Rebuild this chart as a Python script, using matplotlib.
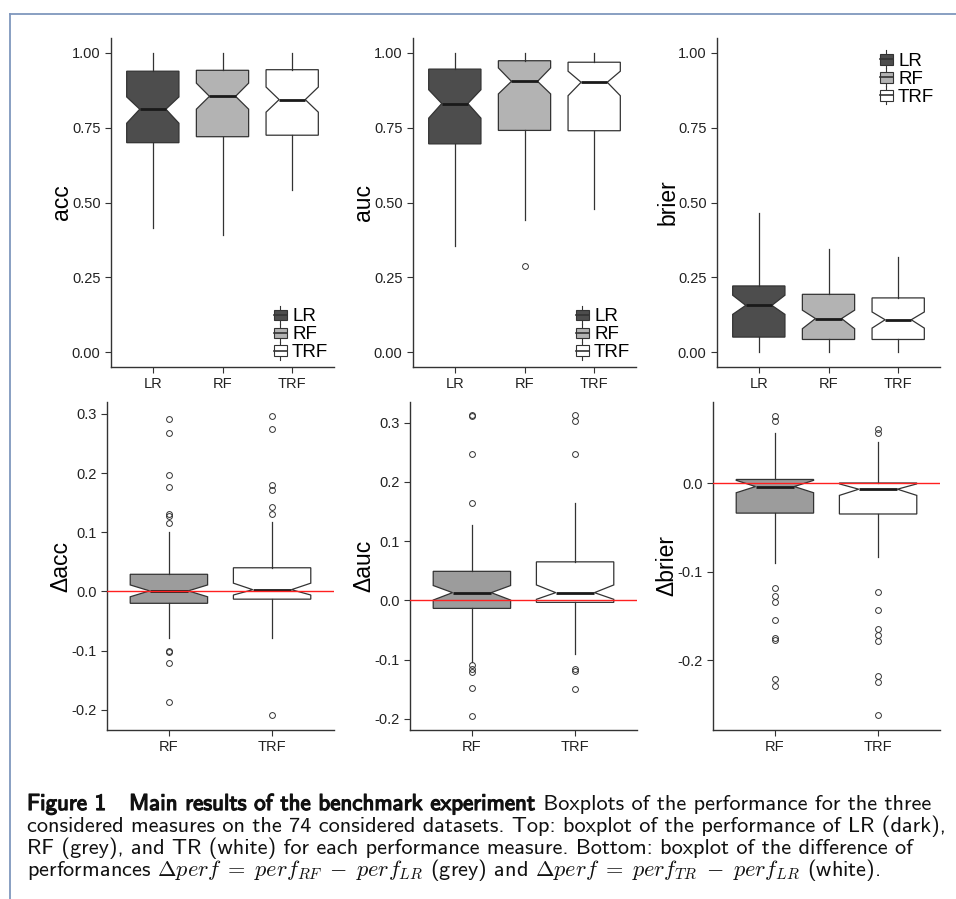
import matplotlib
matplotlib.use("Agg")
import matplotlib.pyplot as plt
import matplotlib.patheffects as pe
from matplotlib.lines import Line2D
from matplotlib.patches import Patch, Rectangle
from matplotlib.legend_handler import HandlerBase

plt.rcParams["font.family"] = "Liberation Sans"
plt.rcParams["axes.unicode_minus"] = False
plt.rcParams["mathtext.fontset"] = "cm"

# ---- dados ----
modelos = ["LR", "RF", "TRF"]
cores_topo = ["#4d4d4d", "#b3b3b3", "#ffffff"]
cores_base = ["#9c9c9c", "#ffffff"]

# topo: (q1, mediana, q3, bigode inf, bigode sup, ci inf, ci sup)
acc = [(0.700, 0.812, 0.939, 0.416, 1.0, 0.765, 0.853),
       (0.720, 0.855, 0.942, 0.391, 1.0, 0.812, 0.899),
       (0.725, 0.844, 0.944, 0.541, 1.0, 0.802, 0.886)]
auc = [(0.696, 0.831, 0.946, 0.355, 1.0, 0.782, 0.877),
       (0.741, 0.905, 0.974, 0.441, 1.0, 0.863, 0.950),
       (0.740, 0.902, 0.969, 0.477, 1.0, 0.857, 0.939)]
brier = [(0.050, 0.156, 0.221, 0.0, 0.466, 0.126, 0.190),
         (0.042, 0.112, 0.193, 0.0, 0.346, 0.078, 0.140),
         (0.042, 0.108, 0.181, 0.0, 0.318, 0.080, 0.134)]
out_auc = [[], [0.287], []]

# base: diferenças RF-LR, TRF-LR
dacc = [(-0.020, 0.001, 0.029, -0.078, 0.100, -0.009, 0.011),
        (-0.013, 0.003, 0.040, -0.079, 0.117, -0.006, 0.014)]
out_dacc = [[0.291, 0.267, 0.196, 0.177, 0.130, 0.128, 0.116,
             -0.100, -0.102, -0.120, -0.187],
            [0.297, 0.275, 0.180, 0.171, 0.143, 0.131, -0.209]]
dauc = [(-0.0136, 0.013, 0.049, -0.104, 0.127, 0.0005, 0.025),
        (-0.0034, 0.013, 0.065, -0.090, 0.164, 0.0017, 0.026)]
out_dauc = [[0.313, 0.311, 0.248, 0.165, -0.109, -0.116, -0.121,
             -0.148, -0.195],
            [0.313, 0.303, 0.248, -0.116, -0.119, -0.149]]
dbrier = [(-0.034, -0.004, 0.004, -0.090, 0.057, -0.011, 0.003),
          (-0.035, -0.007, 0.000, -0.084, 0.046, -0.014, -0.001)]
out_dbrier = [[0.076, 0.070, -0.119, -0.128, -0.134, -0.155, -0.175,
               -0.177, -0.221, -0.229],
              [0.061, 0.056, -0.123, -0.143, -0.165, -0.172, -0.178,
               -0.218, -0.225, -0.262]]

ESCURO = "#333333"


class ChaveBox(HandlerBase):
    # chave de legenda no estilo ggplot: caixinha com bigode e mediana
    def create_artists(self, legend, orig, xd, yd, w, h, fs, trans):
        cx = w / 2 - xd
        bw, bh = w * 0.95, h * 0.72
        y0 = -yd + (h - bh) / 2
        bigode = Line2D([cx, cx], [-yd - 1, -yd + h + 1], color=ESCURO,
                        lw=0.8, transform=trans)
        caixa = Rectangle((cx - bw / 2, y0), bw, bh, facecolor=orig.get_facecolor(),
                          edgecolor=ESCURO, lw=0.8, transform=trans)
        med = Line2D([cx - bw / 2, cx + bw / 2], [y0 + bh / 2] * 2, color=ESCURO,
                     lw=1.2, transform=trans)
        return [bigode, caixa, med]


def estatisticas(linhas, outliers=None):
    st = []
    for i, (q1, med, q3, lo, hi, cil, cih) in enumerate(linhas):
        st.append(dict(q1=q1, med=med, q3=q3, whislo=lo, whishi=hi,
                       cilo=cil, cihi=cih,
                       fliers=outliers[i] if outliers else []))
    return st


def painel(ax, linhas, cores, outliers=None):
    bp = ax.bxp(estatisticas(linhas, outliers), positions=range(1, len(linhas) + 1),
                widths=0.75, patch_artist=True, shownotches=True, showcaps=False,
                boxprops=dict(edgecolor=ESCURO, linewidth=0.9),
                whiskerprops=dict(color=ESCURO, linewidth=0.9),
                medianprops=dict(color="#1a1a1a", linewidth=2.0),
                flierprops=dict(marker="o", markersize=4.2, markerfacecolor="none",
                                markeredgecolor=ESCURO, markeredgewidth=0.7))
    for caixa, cor in zip(bp["boxes"], cores):
        caixa.set_facecolor(cor)
    for lado in ("top", "right"):
        ax.spines[lado].set_visible(False)
    for lado in ("left", "bottom"):
        ax.spines[lado].set_color(ESCURO)
        ax.spines[lado].set_linewidth(1.0)
    ax.tick_params(direction="out", length=4, width=0.8, color=ESCURO,
                   labelsize=10.5, labelcolor="#222222")


fig = plt.figure(figsize=(9.56, 8.99), dpi=100)

# --- linha de cima ---
topo = [(acc, None, "acc", "lower right", (1, 0)),
        (auc, out_auc, "auc", "lower right", (1, 0)),
        (brier, None, "brier", "upper right", (1, 0.975))]
esq_topo = [111, 413, 717]
for esq, (linhas, outs, nome, loc, ancora) in zip(esq_topo, topo):
    ax = fig.add_axes([esq / 956, 1 - 367 / 899, 223 / 956, 329 / 899])
    painel(ax, linhas, cores_topo, outs)
    ax.set_xlim(0.4, 3.6)
    ax.set_ylim(-0.05, 1.05)
    ax.set_yticks([0, 0.25, 0.5, 0.75, 1.0])
    ax.set_yticklabels(["0.00", "0.25", "0.50", "0.75", "1.00"])
    ax.set_xticks([1, 2, 3])
    ax.set_xticklabels(modelos)
    ax.set_ylabel(nome, fontsize=16.5, labelpad=-1)
    alcas = [Patch(facecolor=c) for c in cores_topo]
    ax.legend(alcas, modelos, loc=loc, bbox_to_anchor=ancora, frameon=False,
              fontsize=13.5, handler_map={Patch: ChaveBox()}, handlelength=0.75,
              handleheight=0.85, handletextpad=0.25, labelspacing=0.0,
              borderaxespad=0.2, borderpad=0.1)

# --- linha de baixo ---
base = [(dacc, out_dacc, "\u0394acc", (-0.234, 0.32), [-0.2, -0.1, 0.0, 0.1, 0.2, 0.3]),
        (dauc, out_dauc, "\u0394auc", (-0.219, 0.335), [-0.2, -0.1, 0.0, 0.1, 0.2, 0.3]),
        (dbrier, out_dbrier, "\u0394brier", (-0.279, 0.0915), [-0.2, -0.1, 0.0])]
esq_base = [107, 410, 713]
for esq, (linhas, outs, nome, lim, ticks) in zip(esq_base, base):
    ax = fig.add_axes([esq / 956, 1 - 730 / 899, 227 / 956, 328 / 899])
    painel(ax, linhas, cores_base, outs)
    ax.axhline(0, color="#ff2020", lw=1.0, zorder=5)
    ax.set_xlim(0.4, 2.6)
    ax.set_ylim(*lim)
    ax.set_yticks(ticks)
    ax.set_yticklabels([f"{t:.1f}" for t in ticks])
    ax.set_xticks([1, 2])
    ax.set_xticklabels(modelos[1:])
    ax.set_ylabel(nome, fontsize=16.5, labelpad=-1)

# moldura da página
azul = "#7f97bd"
fig.add_artist(Line2D([10 / 956, 1], [1 - 14 / 899] * 2, color=azul, lw=1.3,
                      transform=fig.transFigure))
fig.add_artist(Line2D([10 / 956] * 2, [0, 1 - 14 / 899], color=azul, lw=1.3,
                      transform=fig.transFigure))

# legenda da figura (texto corrido, Computer Modern Sans)
fonte_leg = "cmss10"
negrito = [pe.withStroke(linewidth=0.9, foreground="#111111")]
linhas_leg = [
    [("Figure 1   Main results of the benchmark experiment", True),
     (" Boxplots of the performance for the three", False)],
    [("considered measures on the 74 considered datasets. Top: boxplot of the performance of LR (dark),", False)],
    [("RF (grey), and TR (white) for each performance measure. Bottom: boxplot of the difference of", False)],
    [(r"performances $\Delta perf\;=\;perf_{RF}\;-\;perf_{LR}$ (grey) and "
      r"$\Delta perf\;=\;perf_{TR}\;-\;perf_{LR}$ (white).", False)],
]
render = fig.canvas.get_renderer()
# ajusta o tamanho para a 2a linha ocupar a largura da página (27 -> 950 px)
teste = fig.text(0, 0, linhas_leg[1][0][0], fontsize=15, family=fonte_leg)
tam = 15 * 923 / teste.get_window_extent(render).width
teste.remove()
x0 = 27 / 956
for i, partes in enumerate(linhas_leg):
    y = 1 - (810 + 22 * i) / 899
    x = x0
    for texto, bold in partes:
        t = fig.text(x, y, texto, fontsize=tam * (1.03 if bold else 1.0),
                     family=fonte_leg, va="baseline", ha="left", color="#111111",
                     path_effects=negrito if bold else None)
        bb = t.get_window_extent(render)
        x = bb.x1 / fig.bbox.width + (0.6 / 956 if bold else 0)

fig.savefig("out.png", dpi=100, facecolor="white")
